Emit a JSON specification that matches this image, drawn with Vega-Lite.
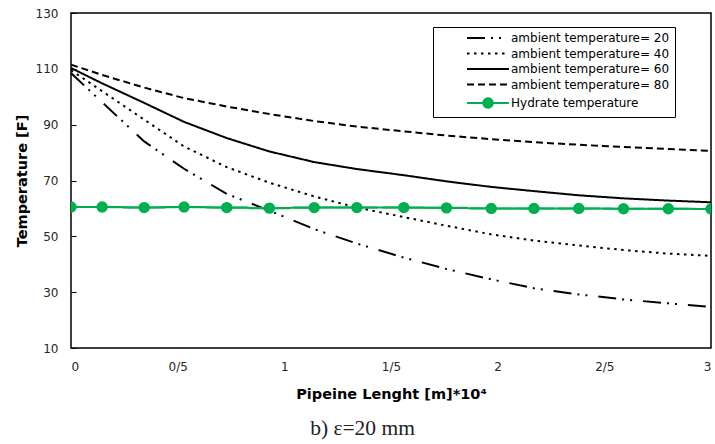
{
  "$schema": "https://vega.github.io/schema/vega-lite/v6.json",
  "width": 640,
  "height": 335,
  "autosize": "none",
  "padding": {"left": 71, "top": 13, "right": 4, "bottom": 96},
  "background": "white",
  "title": {"text": "b) ε=20 mm", "orient": "bottom", "anchor": "middle", "frame": "bounds", "font": "Liberation Serif", "fontSize": 21.5, "fontWeight": "normal", "color": "#222", "offset": 17},
  "data": {"values": [
    {"s": "ambient temperature= 20", "x": 0, "y": 108.5}, {"s": "ambient temperature= 20", "x": 0.146, "y": 98}, {"s": "ambient temperature= 20", "x": 0.343, "y": 84}, {"s": "ambient temperature= 20", "x": 0.53, "y": 74.2}, {"s": "ambient temperature= 20", "x": 0.73, "y": 65.2}, {"s": "ambient temperature= 20", "x": 0.93, "y": 59.2}, {"s": "ambient temperature= 20", "x": 1.14, "y": 52.6}, {"s": "ambient temperature= 20", "x": 1.34, "y": 47.4}, {"s": "ambient temperature= 20", "x": 1.56, "y": 42.4}, {"s": "ambient temperature= 20", "x": 1.76, "y": 38.3}, {"s": "ambient temperature= 20", "x": 1.97, "y": 34.6}, {"s": "ambient temperature= 20", "x": 2.17, "y": 31.4}, {"s": "ambient temperature= 20", "x": 2.38, "y": 29.2}, {"s": "ambient temperature= 20", "x": 2.59, "y": 27.4}, {"s": "ambient temperature= 20", "x": 2.8, "y": 26}, {"s": "ambient temperature= 20", "x": 3, "y": 24.7},
    {"s": "ambient temperature= 40", "x": 0, "y": 109.5}, {"s": "ambient temperature= 40", "x": 0.146, "y": 102}, {"s": "ambient temperature= 40", "x": 0.343, "y": 91.8}, {"s": "ambient temperature= 40", "x": 0.53, "y": 82.2}, {"s": "ambient temperature= 40", "x": 0.73, "y": 74.8}, {"s": "ambient temperature= 40", "x": 0.93, "y": 69.2}, {"s": "ambient temperature= 40", "x": 1.14, "y": 64.3}, {"s": "ambient temperature= 40", "x": 1.34, "y": 60.3}, {"s": "ambient temperature= 40", "x": 1.56, "y": 56.9}, {"s": "ambient temperature= 40", "x": 1.76, "y": 53.8}, {"s": "ambient temperature= 40", "x": 1.97, "y": 50.7}, {"s": "ambient temperature= 40", "x": 2.17, "y": 48.5}, {"s": "ambient temperature= 40", "x": 2.38, "y": 46.7}, {"s": "ambient temperature= 40", "x": 2.59, "y": 45.1}, {"s": "ambient temperature= 40", "x": 2.8, "y": 43.8}, {"s": "ambient temperature= 40", "x": 3, "y": 43},
    {"s": "ambient temperature= 60", "x": 0, "y": 110.3}, {"s": "ambient temperature= 60", "x": 0.146, "y": 104.8}, {"s": "ambient temperature= 60", "x": 0.343, "y": 97.8}, {"s": "ambient temperature= 60", "x": 0.53, "y": 91}, {"s": "ambient temperature= 60", "x": 0.73, "y": 85.2}, {"s": "ambient temperature= 60", "x": 0.93, "y": 80.4}, {"s": "ambient temperature= 60", "x": 1.14, "y": 76.6}, {"s": "ambient temperature= 60", "x": 1.34, "y": 74.1}, {"s": "ambient temperature= 60", "x": 1.56, "y": 71.9}, {"s": "ambient temperature= 60", "x": 1.76, "y": 69.7}, {"s": "ambient temperature= 60", "x": 1.97, "y": 67.7}, {"s": "ambient temperature= 60", "x": 2.17, "y": 66.2}, {"s": "ambient temperature= 60", "x": 2.38, "y": 64.7}, {"s": "ambient temperature= 60", "x": 2.59, "y": 63.6}, {"s": "ambient temperature= 60", "x": 2.8, "y": 62.8}, {"s": "ambient temperature= 60", "x": 3, "y": 62.2},
    {"s": "ambient temperature= 80", "x": 0, "y": 111.5}, {"s": "ambient temperature= 80", "x": 0.146, "y": 107.8}, {"s": "ambient temperature= 80", "x": 0.343, "y": 103.3}, {"s": "ambient temperature= 80", "x": 0.53, "y": 99.5}, {"s": "ambient temperature= 80", "x": 0.73, "y": 96.5}, {"s": "ambient temperature= 80", "x": 0.93, "y": 93.8}, {"s": "ambient temperature= 80", "x": 1.14, "y": 91.3}, {"s": "ambient temperature= 80", "x": 1.34, "y": 89.3}, {"s": "ambient temperature= 80", "x": 1.56, "y": 87.6}, {"s": "ambient temperature= 80", "x": 1.76, "y": 86.1}, {"s": "ambient temperature= 80", "x": 1.97, "y": 84.8}, {"s": "ambient temperature= 80", "x": 2.17, "y": 83.7}, {"s": "ambient temperature= 80", "x": 2.38, "y": 82.8}, {"s": "ambient temperature= 80", "x": 2.59, "y": 82}, {"s": "ambient temperature= 80", "x": 2.8, "y": 81.3}, {"s": "ambient temperature= 80", "x": 3, "y": 80.6},
    {"s": "Hydrate temperature", "x": 0, "y": 60.5}, {"s": "Hydrate temperature", "x": 0.146, "y": 60.5}, {"s": "Hydrate temperature", "x": 0.343, "y": 60.3}, {"s": "Hydrate temperature", "x": 0.53, "y": 60.5}, {"s": "Hydrate temperature", "x": 0.73, "y": 60.3}, {"s": "Hydrate temperature", "x": 0.93, "y": 60.1}, {"s": "Hydrate temperature", "x": 1.14, "y": 60.3}, {"s": "Hydrate temperature", "x": 1.34, "y": 60.3}, {"s": "Hydrate temperature", "x": 1.56, "y": 60.3}, {"s": "Hydrate temperature", "x": 1.76, "y": 60.2}, {"s": "Hydrate temperature", "x": 1.97, "y": 60}, {"s": "Hydrate temperature", "x": 2.17, "y": 60}, {"s": "Hydrate temperature", "x": 2.38, "y": 60}, {"s": "Hydrate temperature", "x": 2.59, "y": 59.9}, {"s": "Hydrate temperature", "x": 2.8, "y": 59.9}, {"s": "Hydrate temperature", "x": 3, "y": 59.8}
  ]},
  "encoding": {
    "x": {"field": "x", "type": "quantitative", "scale": {"domain": [0, 3], "nice": false}, "axis": {"values": [0, 0.5, 1, 1.5, 2, 2.5, 3], "format": "~g", "labelExpr": "replace(datum.label, '.', '/')", "title": "Pipeine Lenght [m]*10⁴", "labelPadding": 13, "titlePadding": 15}},
    "y": {"field": "y", "type": "quantitative", "scale": {"domain": [10, 130], "nice": false}, "axis": {"values": [10, 30, 50, 70, 90, 110, 130], "title": "Temperature [F]", "ticks": true, "tickSize": -5, "tickColor": "#000000", "tickWidth": 1, "labelPadding": 18, "titlePadding": 6}}
  },
  "layer": [
    {
      "mark": {"type": "line", "strokeWidth": 2, "clip": true},
      "encoding": {
        "stroke": {"field": "s", "type": "nominal", "sort": null, "scale": {"domain": ["ambient temperature= 20", "ambient temperature= 40", "ambient temperature= 60", "ambient temperature= 80", "Hydrate temperature"], "range": ["#000000", "#000000", "#000000", "#000000", "#00B050"]}, "legend": {"labelExpr": "datum.label + '\u00a0\u00a0\u00a0\u00a0\u00a0\u00a0\u00a0\u00a0\u00a0\u00a0'"}},
        "strokeDash": {"field": "s", "type": "nominal", "sort": null, "scale": {"domain": ["ambient temperature= 20", "ambient temperature= 40", "ambient temperature= 60", "ambient temperature= 80", "Hydrate temperature"], "range": [[18, 6, 2, 6, 2, 11], [2.5, 4.5], [1, 0], [7, 4], [1, 0]]}, "legend": {"labelExpr": "datum.label + '\u00a0\u00a0\u00a0\u00a0\u00a0\u00a0\u00a0\u00a0\u00a0\u00a0'"}}
      }
    },
    {
      "transform": [{"filter": "datum.s === 'Hydrate temperature'"}],
      "mark": {"type": "point", "filled": true, "size": 100, "strokeWidth": 2, "clip": true, "opacity": 1},
      "encoding": {
        "stroke": {"field": "s", "type": "nominal", "sort": null, "scale": {"domain": ["ambient temperature= 20", "ambient temperature= 40", "ambient temperature= 60", "ambient temperature= 80", "Hydrate temperature"], "range": ["#000000", "#000000", "#000000", "#000000", "#00B050"]}, "legend": {"labelExpr": "datum.label + '\u00a0\u00a0\u00a0\u00a0\u00a0\u00a0\u00a0\u00a0\u00a0\u00a0'"}},
        "fill": {"field": "s", "type": "nominal", "sort": null, "scale": {"domain": ["ambient temperature= 20", "ambient temperature= 40", "ambient temperature= 60", "ambient temperature= 80", "Hydrate temperature"], "range": ["transparent", "transparent", "transparent", "transparent", "#00B050"]}, "legend": {"labelExpr": "datum.label + '\u00a0\u00a0\u00a0\u00a0\u00a0\u00a0\u00a0\u00a0\u00a0\u00a0'"}},
        "shape": {"field": "s", "type": "nominal", "sort": null, "scale": {"domain": ["ambient temperature= 20", "ambient temperature= 40", "ambient temperature= 60", "ambient temperature= 80", "Hydrate temperature"], "range": ["M-4.2,0L4.2,0", "M-4.2,0L4.2,0", "M-4.2,0L4.2,0", "M-4.2,0L4.2,0", "M-4.2,0L4.2,0M0.94,0A0.94,0.94,0,1,1,-0.94,0A0.94,0.94,0,1,1,0.94,0Z"]}, "legend": {"labelExpr": "datum.label + '\u00a0\u00a0\u00a0\u00a0\u00a0\u00a0\u00a0\u00a0\u00a0\u00a0'"}}
      }
    }
  ],
  "config": {
    "view": {"stroke": "#000000", "strokeWidth": 1.5},
    "axis": {"grid": false, "domain": false, "ticks": false, "tickSize": 0, "labelFont": "DejaVu Sans", "labelFontSize": 12, "labelColor": "#262626", "titleFont": "DejaVu Sans", "titleFontSize": 14.5, "titleFontWeight": "bold", "titleColor": "#000000"},
    "legend": {"orient": "none", "legendX": 362, "legendY": 14, "title": null, "strokeColor": "#000000", "fillColor": "#ffffff", "padding": 5, "labelFont": "DejaVu Sans", "labelFontSize": 12, "labelColor": "#000000", "symbolSize": 100, "symbolStrokeWidth": 2, "symbolOffset": 44, "labelOffset": 17, "rowPadding": 3.5}
  }
}
